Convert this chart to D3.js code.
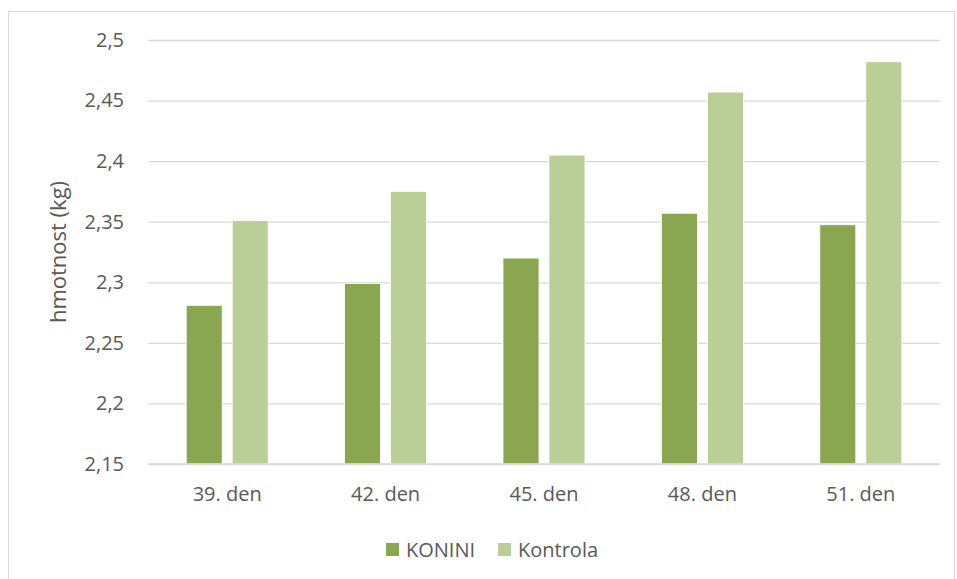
<!DOCTYPE html>
<html>
<head>
<meta charset="utf-8">
<script src="https://cdn.jsdelivr.net/npm/d3@7"></script>
<style>
  body { margin: 0; background: #fff; }
  svg text { font-family: "Open Sans", sans-serif; fill: #595959; }
</style>
</head>
<body>
<div id="chart"></div>
<script>
const categories = ["39. den", "42. den", "45. den", "48. den", "51. den"];
const seriesNames = ["KONINI", "Kontrola"];
const konini = [2.281, 2.299, 2.320, 2.357, 2.3475];
const kontrola = [2.351, 2.375, 2.405, 2.457, 2.482];
const yTicks = [2.15, 2.2, 2.25, 2.3, 2.35, 2.4, 2.45, 2.5];
const colors = ["#8BA650", "#BACE97"];

const W = 957, H = 579;
const margin = { top: 40, right: 17, bottom: 115, left: 148 };
const width = W - margin.left - margin.right;
const height = H - margin.top - margin.bottom;

const svg = d3.select("#chart").append("svg")
  .attr("width", W)
  .attr("height", H);

// chart frame
svg.append("rect")
  .attr("x", 8.5).attr("y", 11.5)
  .attr("width", 946).attr("height", 600)
  .attr("fill", "#fff")
  .attr("stroke", "#D9D9D9");

const g = svg.append("g")
  .attr("transform", `translate(${margin.left},${margin.top})`);

const x0 = d3.scaleBand().domain(categories).range([0, width]);
const x1 = d3.scaleBand().domain(seriesNames).range([0, 82]).paddingInner(10 / 46);
const y = d3.scaleLinear().domain([2.15, 2.5]).range([height, 0]);

// gridlines
g.append("g")
  .call(d3.axisLeft(y).tickValues(yTicks).tickSize(-width).tickFormat(""))
  .call(a => a.select(".domain").remove())
  .call(a => a.selectAll("line").attr("stroke", "#D9D9D9").attr("stroke-width", 1.3));

// y tick labels
g.append("g")
  .call(d3.axisLeft(y).tickValues(yTicks).tickSize(0).tickPadding(24)
    .tickFormat(d => String(+d.toFixed(2)).replace(".", ",")))
  .call(a => a.select(".domain").remove())
  .call(a => a.selectAll("text").style("font-size", "20px").attr("fill", "#595959"));

// bars
const data = categories.map((c, i) => ({ cat: c, vals: [konini[i], kontrola[i]] }));
const groups = g.selectAll(".grp").data(data).enter().append("g")
  .attr("transform", d => `translate(${x0(d.cat) + (x0.bandwidth() - 82) / 2},0)`);

groups.selectAll("rect")
  .data(d => d.vals.map((v, j) => ({ key: seriesNames[j], v, j })))
  .enter().append("rect")
  .attr("x", d => x1(d.key))
  .attr("width", x1.bandwidth())
  .attr("y", d => y(d.v))
  .attr("height", d => height - y(d.v))
  .attr("fill", d => colors[d.j])
  .attr("stroke", "#fff")
  .attr("stroke-width", 0.8);

// baseline
g.append("line")
  .attr("x1", 0).attr("x2", width)
  .attr("y1", height).attr("y2", height)
  .attr("stroke", "#D9D9D9").attr("stroke-width", 1.3);

// x axis labels
g.append("g")
  .attr("transform", `translate(0,${height})`)
  .call(d3.axisBottom(x0).tickSize(0).tickPadding(23))
  .call(a => a.select(".domain").remove())
  .call(a => a.selectAll("text").style("font-size", "20px").attr("fill", "#595959"));

// y title
svg.append("text")
  .attr("transform", `translate(66,${margin.top + height / 2}) rotate(-90)`)
  .attr("text-anchor", "middle")
  .style("font-size", "22px")
  .text("hmotnost (kg)");

// legend
const legend = svg.append("g").attr("transform", "translate(386,543)");
const legendX = [0, 112];
seriesNames.forEach((s, i) => {
  const item = legend.append("g").attr("transform", `translate(${legendX[i]},0)`);
  item.append("rect").attr("width", 13).attr("height", 13).attr("fill", colors[i]);
  item.append("text").attr("x", 20).attr("y", 14)
    .style("font-size", "20px").text(s);
});
</script>
</body>
</html>
